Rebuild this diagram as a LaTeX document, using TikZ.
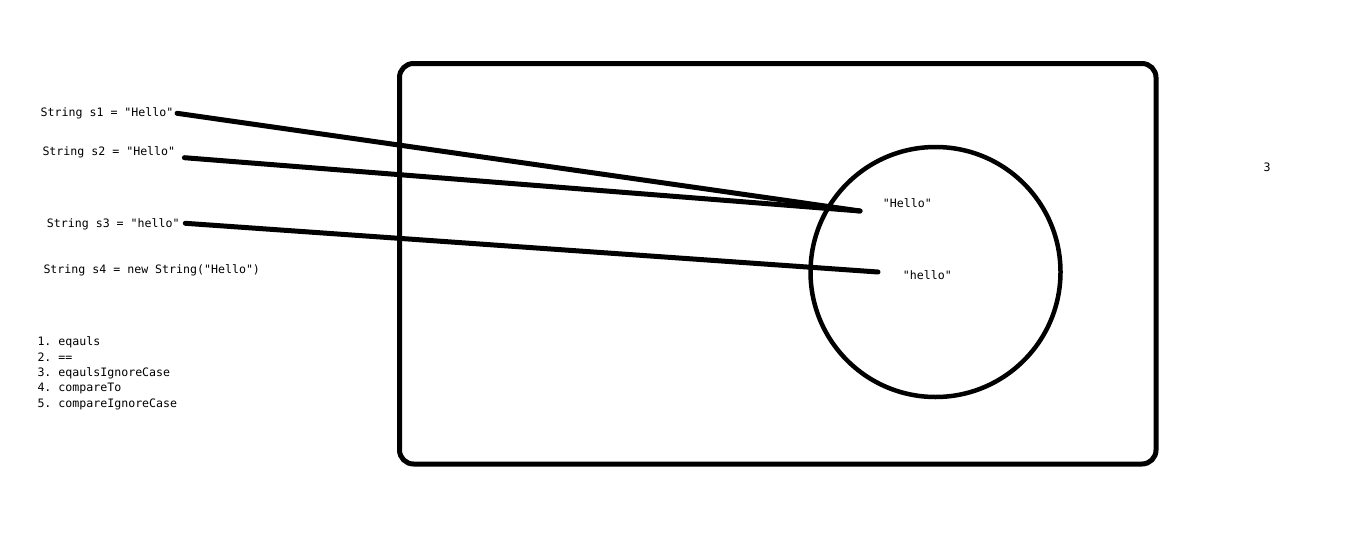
\documentclass[tikz,border=0pt]{standalone}
\usepackage{fontspec}
\setmonofont{DejaVu Sans Mono}
\begin{document}
\begin{tikzpicture}[x=1pt,y=-1pt,
  code/.style={font=\ttfamily\fontsize{11.6}{13}\selectfont, inner sep=0pt, anchor=base west, text=black},
  wire/.style={line width=5pt, line cap=round},
  frame/.style={line width=5pt, rounded corners=14pt},
  heap/.style={circle, draw, line width=4.5pt, minimum size=250pt, inner sep=0pt}]
\useasboundingbox (0,0) rectangle (1346,554);
\fill[white] (0,0) rectangle (1346,554);
% frame
\draw[frame] (399.5,63.5) rectangle (1156,464);
\node[heap] (pool) at (935.5,272) {};
% code lines
\node[code] (s1) at (40.5,116) {String s1 = "Hello"};
\node[code] (s2) at (42.3,155.7) {String s2 = "Hello"};
\node[code] (s3) at (46.7,227.7) {String s3 = "hello"};
\node[code] (s4) at (43.3,273.3) {String s4 = new String("Hello")};
% list
\node[code] (l1) at (37.3,345.7) {1. eqauls};
\node[code] (l2) at (37.3,361) {2. ==};
\node[code] (l3) at (37.3,376.3) {3. eqaulsIgnoreCase};
\node[code] (l4) at (37.3,391.6) {4. compareTo};
\node[code] (l5) at (37.3,407) {5. compareIgnoreCase};
% pool contents
\node[code] (hU) at (882.7,207.7) {"Hello"};
\node[code] (hL) at (902.7,279.3) {"hello"};
\node[code] (three) at (1263.3,171.3) {3};
\coordinate (eU) at (860,211);
\coordinate (eL) at (878,272);
% connectors
\draw[wire] ([xshift=3.5pt,yshift=2.7pt]s1.base east) -- (eU);
\draw[wire] ([xshift=9pt,yshift=-2pt]s2.base east) -- (eU);
\draw[wire] ([xshift=5.5pt,yshift=4.4pt]s3.base east) -- (eL);
\end{tikzpicture}
\end{document}
